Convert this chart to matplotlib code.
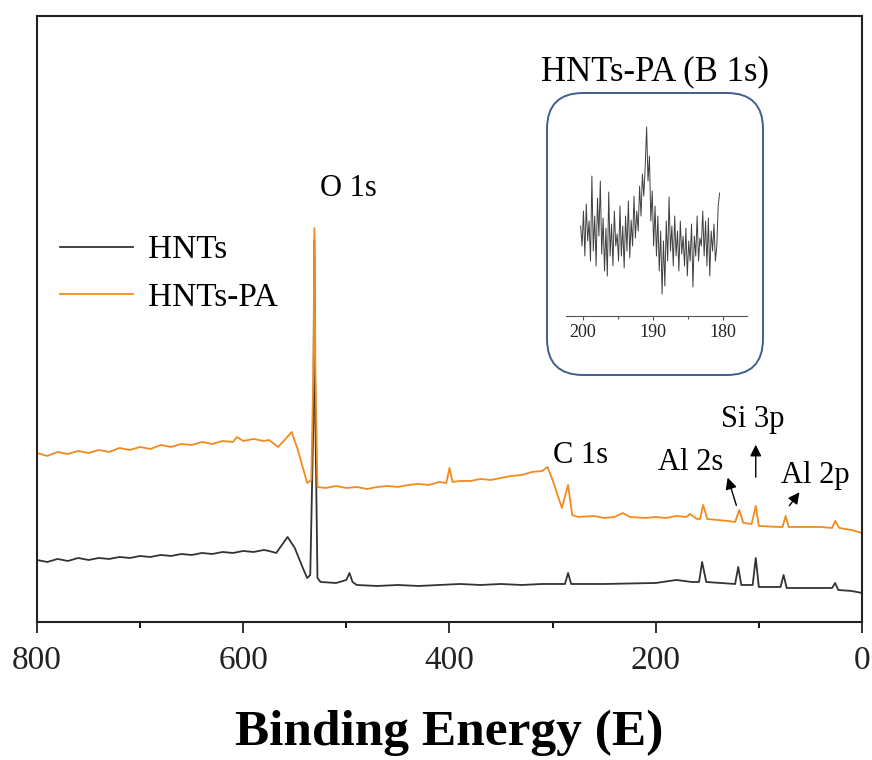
import numpy as np
import matplotlib
matplotlib.use('Agg')
import matplotlib.pyplot as plt
from matplotlib.patches import FancyBboxPatch

plt.rcParams['font.family'] = ['Liberation Serif', 'DejaVu Serif']

# survey spectra (binding energy, intensity a.u.)
hnts_e = [800, 790, 780, 770, 760, 750, 740, 730, 720, 710, 700, 690, 680, 670, 660, 650,
          640, 630, 620, 610, 600, 590, 580, 575, 568, 557, 550, 543, 538, 535,
          532, 531, 530, 528, 525, 510, 500, 497, 494, 490, 470, 450, 430, 410, 390, 370,
          350, 330, 310, 288, 285, 282, 250, 200, 180, 165, 158, 155, 151, 123, 120, 117,
          106, 103, 100, 79, 76, 73, 50, 29, 26, 23, 10, 0]
hnts_i = [62, 60, 63, 61, 64, 62, 64, 63, 65, 64, 66, 65, 67, 66, 68, 67,
          69, 68, 70, 69, 71, 70, 72, 71, 69, 85, 74, 56, 44, 47,
          200, 382, 200, 44, 40, 39, 42, 49, 40, 37, 36, 37, 36, 37, 38, 37,
          38, 37, 38, 38, 49, 38, 38, 39, 42, 40, 40, 60, 40, 38, 55, 37,
          37, 64, 35, 35, 47, 34, 34, 34, 39, 32, 31, 29]

pa_e = [800, 790, 780, 770, 760, 750, 740, 730, 720, 710, 700, 690, 680, 670, 660, 650,
        640, 630, 620, 610, 606, 600, 590, 580, 575, 566, 553, 547, 538, 534,
        532, 531, 530, 528, 520, 510, 500, 490, 480, 470, 460, 450, 440, 430, 420, 410,
        403, 400, 397, 390, 380, 370, 360, 350, 340, 330, 320, 310, 305, 300, 291, 285,
        281, 275, 260, 250, 240, 232, 225, 210, 200, 190, 180, 170, 167, 160, 157, 154,
        150, 130, 123, 119, 115, 107, 103, 100, 80, 77, 74, 71, 40, 29, 26, 22, 10, 0]
pa_i = [169, 166, 170, 168, 171, 169, 172, 170, 174, 172, 175, 173, 177, 175, 178, 177,
        180, 178, 181, 180, 185, 181, 183, 181, 182, 175, 190, 172, 139, 142,
        250, 394, 250, 135, 134, 136, 134, 135, 133, 135, 136, 135, 137, 138, 137, 140,
        139, 154, 140, 141, 141, 143, 142, 144, 146, 147, 150, 151, 155, 142, 114, 137,
        107, 105, 106, 104, 105, 109, 105, 104, 105, 104, 106, 105, 108, 103, 103, 117,
        103, 101, 100, 112, 99, 98, 116, 96, 95, 95, 106, 95, 95, 94, 101, 94, 92, 89]

# B 1s inset
b1s_e = np.linspace(200.3, 180.5, 100)
b1s_i = [90, 70, 105, 60, 112, 75, 95, 55, 140, 65,
         100, 50, 118, 80, 135, 62, 98, 45, 88, 40,
         124, 60, 92, 50, 105, 70, 82, 55, 110, 60,
         90, 48, 100, 65, 115, 58, 96, 70, 120, 78,
         105, 85, 130, 100, 142, 120, 150, 189, 135, 160,
         95, 125, 70, 110, 60, 100, 45, 85, 22, 75,
         30, 95, 55, 119, 65, 90, 50, 100, 60, 85,
         45, 95, 62, 80, 50, 88, 40, 75, 55, 92,
         29, 80, 60, 100, 55, 78, 70, 105, 60, 95,
         50, 98, 40, 85, 65, 92, 55, 70, 110, 123]

black = '#333333'
orange = '#F28A1E'

fig = plt.figure(figsize=(8.72, 7.6), dpi=100)
ax = fig.add_axes([0.0424, 0.1816, 0.9461, 0.7974])

ax.plot(hnts_e, hnts_i, color=black, lw=1.3, label='HNTs')
ax.plot(pa_e, pa_i, color=orange, lw=1.3, label='HNTs-PA')

ax.set_xlim(800, 0)
ax.set_ylim(0, 606)
ax.set_yticks([])
ax.set_xticks([800, 600, 400, 200, 0])
ax.set_xticks([700, 500, 300, 100], minor=True)
ax.tick_params(axis='x', which='major', length=8, width=1.3, direction='out',
               labelsize=24, pad=9, colors='#222222')
ax.tick_params(axis='x', which='minor', length=4.5, width=1.3, direction='out')
for s in ax.spines.values():
    s.set_linewidth(1.5)
    s.set_color('#222222')
ax.set_xlabel('Binding Energy (E)', fontsize=37, fontweight='bold', labelpad=24)

ax.legend(loc='upper left', bbox_to_anchor=(60 / 872, (760 - 235) / 760),
          bbox_transform=fig.transFigure, frameon=False, fontsize=24,
          handlelength=2.2, handletextpad=0.45, labelspacing=0.5,
          borderpad=0, borderaxespad=0)

# peak labels
txt = dict(fontsize=22, ha='center', va='center')
ax.text(498, 433, 'O 1s', **txt)
ax.text(273, 166, 'C 1s', **txt)
ax.text(166, 159, 'Al 2s', **txt)
ax.text(106, 202, 'Si 3p', **txt)
ax.text(45, 146, 'Al 2p', **txt)

arr = dict(arrowstyle='-|>', color='black', lw=1.0, mutation_scale=17)
ax.annotate('', xy=(131, 147), xytext=(121, 114), arrowprops=arr)
ax.annotate('', xy=(103, 180), xytext=(103, 142), arrowprops=arr)
ax.annotate('', xy=(59, 132), xytext=(72, 114), arrowprops=arr)

# inset box and axes
box = FancyBboxPatch((5.47, 3.85), 2.16, 2.82,
                     boxstyle='round,pad=0,rounding_size=0.36',
                     transform=fig.dpi_scale_trans, facecolor='white',
                     edgecolor='#3F5F8F', lw=1.4, zorder=3)
fig.patches.append(box)
fig.text(655 / 872, 1 - 72 / 760, 'HNTs-PA (B 1s)', fontsize=25,
         ha='center', va='center')

ins = fig.add_axes([0.649, 0.5842, 0.2076, 0.271])
ins.set_zorder(5)
ins.patch.set_alpha(0)
ins.plot(b1s_e, b1s_i, color='#404040', lw=0.7)
ins.set_xlim(202.4, 176.6)
ins.set_ylim(0, 206)
ins.set_yticks([])
ins.set_xticks([200, 190, 180])
ins.set_xticks([195, 185], minor=True)
for side in ['top', 'right', 'left']:
    ins.spines[side].set_visible(False)
ins.spines['bottom'].set_color('#555555')
ins.spines['bottom'].set_linewidth(0.8)
ins.tick_params(axis='x', which='major', length=3, width=0.8, labelsize=13, pad=3,
                colors='#555555', labelcolor='#222222')
ins.tick_params(axis='x', which='minor', length=2, width=0.8, colors='#555555')

fig.savefig('out.png', dpi=100)
